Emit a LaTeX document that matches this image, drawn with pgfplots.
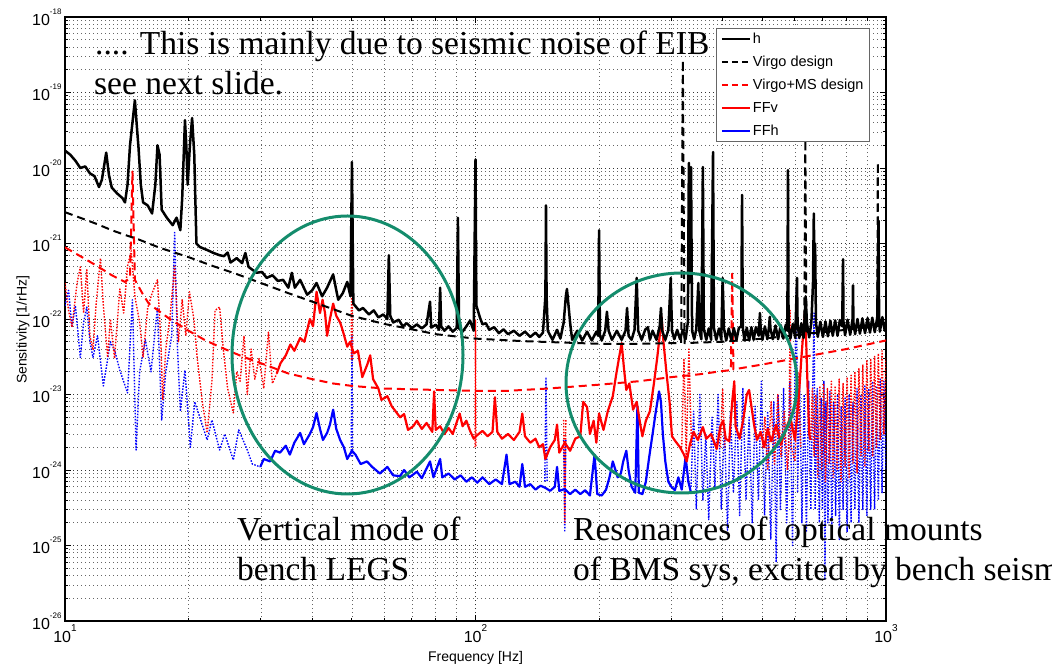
\documentclass[border=0pt]{standalone}
\usepackage{fontspec}
\setmainfont{Liberation Sans}
\newfontfamily\annotfont{Liberation Serif}
\usepackage{pgfplots}
\pgfplotsset{compat=1.18}
\definecolor{ellgreen}{RGB}{20,140,108}
\newcommand{\ytl}[1]{10\raisebox{11pt}{\fontsize{8}{8}\selectfont #1}}
\newcommand{\xtl}[1]{10\raisebox{11pt}{\fontsize{10}{10}\selectfont #1}}
\pgfplotsset{
  limg/.style={legend image code/.code={\draw[#1] (0pt,0pt) -- (28pt,0pt);}},
}
\begin{document}
\begin{tikzpicture}
\begin{axis}[
  at={(0pt,0pt)}, anchor=south west,
  scale only axis, width=821pt, height=604pt,
  xmode=log, ymode=log,
  xmin=10, xmax=1000, ymin=1e-26, ymax=1e-18,
  xtick={10,100,1000},
  xticklabels={\xtl{1},\xtl{2},\xtl{3}},
  ytick={1e-26,1e-25,1e-24,1e-23,1e-22,1e-21,1e-20,1e-19,1e-18},
  yticklabels={\ytl{-26},\ytl{-25},\ytl{-24},\ytl{-23},\ytl{-22},\ytl{-21},\ytl{-20},\ytl{-19},\ytl{-18}},
  tick label style={font=\fontsize{16}{16}\selectfont},
  major tick length=6pt, minor tick length=3.5pt,
  tick align=inside,
  axis line style={line width=1.3pt},
  every tick/.style={black, line width=1pt},
  grid=both,
  major grid style={dash pattern=on 1pt off 3pt, black!80, line width=0.8pt},
  minor grid style={dash pattern=on 1pt off 3pt, black!60, line width=0.7pt},
  xlabel={Frequency [Hz]}, ylabel={Sensitivity [1/rHz]},
  label style={font=\fontsize{14}{14}\selectfont},
  xlabel style={at={(axis description cs:0.5,-0.0613)}, anchor=center},
  ylabel style={at={(axis description cs:-0.0512,0.482)}, anchor=center},
  unbounded coords=jump,
  legend style={font=\fontsize{14.5}{17}\selectfont, draw=black!60, line width=1pt, fill=white,
    at={(0.9805,0.982)}, anchor=north east, inner xsep=4pt, inner ysep=4pt, row sep=9pt,
    nodes={inner xsep=2pt, inner ysep=1pt}},
  legend cell align=left,
]
\addlegendimage{limg={black, line width=2pt, solid}}\addlegendentry{h}
\addlegendimage{limg={black, line width=2pt, dash pattern=on 6pt off 4pt}}\addlegendentry{Virgo design}
\addlegendimage{limg={red, line width=2pt, dash pattern=on 6pt off 4pt}}\addlegendentry{Virgo+MS design}
\addlegendimage{limg={red, line width=2pt, solid}}\addlegendentry{FFv}
\addlegendimage{limg={blue, line width=2pt, solid}}\addlegendentry{FFh}

% FFh dotted parts
\addplot[forget plot, blue, line width=1.4pt, dash pattern=on 1.5pt off 1.5pt, line join=round] coordinates {
(10.0,1.5e-22)(10.2,2.4e-22)(10.4,7.8e-23)(10.6,1.5e-22)(10.9,3.1e-23)(11.1,9e-23)(11.3,1.44e-22)(11.5,5e-23)(11.7,3.1e-23)(12.0,6e-23)(12.4,1.3e-23)(12.9,5e-23)(13.2,3.9e-23)(13.6,2.1e-23)(14.2,1.05e-23)(14.6,1.8e-22)(14.9,1.84e-24)(15.2,2e-23)(15.7,5.3e-23)(16.2,2e-23)(16.8,1.44e-22)(17.2,4.6e-24)(17.6,2e-23)(18.2,6e-23)(18.5,1.4e-21)(18.8,4e-23)(19.1,6e-24)(19.6,2.1e-23)(20.2,2e-24)(20.7,8e-24)(21.3,5e-24)(22.2,2.5e-24)(22.8,4.6e-24)(23.8,1.84e-24)(24.5,3e-24)(25.7,1.36e-24)(26.5,3.4e-24)(27.8,1.84e-24)(28.6,1.2e-24)(29.9,1.1e-24)
(30,nan)
(49.8,1.5e-24)(50,6e-23)(50.2,1.5e-24)
(51,nan)
(147.5,7e-25)(148.5,1.7e-23)(149.5,7e-25)
(150,nan)
(164,2.5e-24)(165,1.5e-25)(166,2.5e-24)
(167,nan)
(335,6e-25)(340,6e-24)(345,3e-25)(352,1e-23)(358,4e-25)(364,3e-24)(370,2.2e-25)(377,5e-24)(383,6e-25)(390,1e-23)(397,3e-25)(404,4e-24)(411,1.6e-25)(418,6e-24)(425,5e-25)(433,8e-24)(440,2.5e-25)(448,1.2e-23)(456,4e-25)(464,5e-24)(472,2e-25)(480,7e-24)(489,4e-25)(497,1.5e-23)(506,2.5e-25)(515,6e-24)(524,1.2e-25)(533,8e-24)(540,6e-26)(546,1e-23)(553,3e-25)(563,1.2e-23)(573,2e-25)(583,1.5e-23)(592,1e-25)(600,2e-23)(605,2.5e-22)(609,5e-25)(616,1.5e-23)(624,2e-25)(632,1e-23)(640,1.5e-25)(648,1.5e-23)(656,3e-25)(664,2e-23)(668,1.2e-22)(672,3e-25)(680,1.2e-23)(688,2e-25)(695,9e-24)(700,3e-25)(706,1.5e-23)(710,3.5e-26)(714,8e-24)(722,2e-25)(730,1.1e-23)(738,1.5e-25)(746,8e-24)(754,2.5e-25)(762,1e-23)(770,1.2e-25)(778,7e-24)(786,3e-25)(795,9e-24)(804,1.5e-25)(813,1e-23)(822,2e-25)(831,8e-24)(840,3e-25)(850,1.2e-23)(859,2e-25)(869,1e-23)(878,3e-25)(888,1.3e-23)(898,2.5e-25)(908,1.2e-23)(918,3e-25)(928,1.5e-23)(938,3e-25)(948,1.3e-23)(958,4e-25)(968,1.6e-23)(978,5e-25)(988,1.5e-23)(1000,1e-24)
};

% FFv dotted parts
\addplot[forget plot, red, line width=1.4pt, dash pattern=on 1.5pt off 1.5pt, line join=round] coordinates {
(10.0,3e-22)(10.2,1.3e-22)(10.4,7.8e-23)(10.7,3e-22)(10.9,4.9e-22)(11.1,1.2e-22)(11.3,4.5e-22)(11.5,6e-23)(11.7,3.9e-23)(11.9,1.5e-22)(12.2,6.4e-22)(12.4,1.5e-22)(12.7,3.1e-23)(12.9,1e-22)(13.2,3e-23)(13.6,2.5e-22)(13.9,1.2e-22)(14.2,5e-22)(14.5,8e-22)(14.8,2e-22)(15.2,9e-23)(15.5,3.1e-23)(15.9,1.4e-22)(16.3,2.2e-22)(16.8,3.3e-22)(17.1,6e-23)(17.3,8.5e-24)(17.6,4e-23)(18.0,1e-22)(18.5,5e-22)(18.9,5e-23)(19.3,1.8e-22)(19.7,6e-23)(20.1,2.3e-22)(20.6,1e-22)(21.0,3e-23)(21.6,8e-24)(22.2,3.1e-24)(22.8,1.5e-23)(23.2,1.3e-22)(23.8,1.44e-22)(24.3,4e-23)(24.9,1.2e-23)(25.7,5.7e-24)(26.2,2e-23)(26.7,1.5e-23)(27.3,6e-23)(27.8,1e-23)(28.4,4e-23)(29.0,1.6e-23)(29.7,3e-23)(30.5,1.2e-23)(31.3,6.7e-23)(32.0,1.4e-23)(32.8,1.9e-23)
(33,nan)
(49.8,2.9e-23)(50,3.8e-21)(50.2,2.9e-23)
(51,nan)
(99.7,2e-24)(100,9.7e-23)(100.3,2e-24)
(101,nan)
(164,4.6e-24)(165,2e-25)(166,4.6e-24)
(167,nan)
(318,2e-24)(322,3e-23)(326,1.5e-24)(331,4e-23)(336,2e-24)
(337,nan)
(395,2e-24)(400,1.2e-23)(405,2e-24)
(406,nan)
(500,2e-24)(507,5e-24)(515,1e-24)(525,8e-24)(535,1.2e-24)(545,1e-23)(555,1.5e-24)(565,6e-24)(575,1e-24)(580,2e-24)(584,1.3e-22)(588,2e-24)(600,1.3e-24)(610,2e-23)(620,2e-24)
(621,nan)
(655,2.5e-24)(662,1.2e-23)(668,1.5e-24)(675,1e-23)(682,8e-25)(690,1.3e-23)(697,1e-24)(705,1.4e-23)(712,7e-25)(720,1.2e-23)(728,1.2e-24)(736,1.5e-23)(744,8e-25)(752,1.3e-23)(760,1e-24)(769,1.6e-23)(777,7e-25)(786,1.4e-23)(795,1.1e-24)(804,1.7e-23)(813,8e-25)(822,1.8e-23)(831,1.2e-24)(840,2e-23)(850,9e-25)(859,2.2e-23)(869,1.5e-24)(878,2.5e-23)(888,1.1e-24)(898,2.8e-23)(908,1.8e-24)(918,3e-23)(928,1.5e-24)(938,3.2e-23)(948,2e-24)(958,3.5e-23)(968,2.5e-24)(978,3.8e-23)(988,3e-24)(1000,3e-23)
};

% FFh solid
\addplot[forget plot, blue, line width=2.2pt, line join=round] coordinates {
(29.9,1.1e-24)(30.5,1.4e-24)(31.6,1.3e-24)(32.5,1.8e-24)(33.4,1.7e-24)(34.5,2.1e-24)(35.3,1.6e-24)(36.2,2.3e-24)(37.4,3.1e-24)(38.2,2.2e-24)(39.5,3e-24)(40.2,3.7e-24)(41,5.7e-24)(41.8,3.5e-24)(42.5,2.5e-24)(43.5,3.1e-24)(44.2,4e-24)(45,6.3e-24)(45.8,3.5e-24)(46.8,2.5e-24)(47.8,2e-24)(48.7,1.4e-24)(50,1.8e-24)(51,1.6e-24)(52.5,1.2e-24)(54.4,1.3e-24)(56,1.1e-24)(58.5,9e-25)(61,1.1e-24)(63,8.5e-25)(65.5,8.3e-25)(67,1e-24)(69,8e-25)(72,9.5e-25)(74,7.8e-25)(77.5,1.3e-24)(79,8e-25)(82,1.4e-24)(83,8e-25)(86,9e-25)(89,7.5e-25)(92,8.5e-25)(95,7e-25)(98,8e-25)(101,6.8e-25)(104,8e-25)(108,6.5e-25)(112,7.5e-25)(116,6.5e-25)(119,1.6e-24)(121,6.5e-25)(125,7e-25)(128,6e-25)(130,1.2e-24)(132,6e-25)(136,6.5e-25)(140,5.5e-25)(144,6.2e-25)(148,5.8e-25)(152,5.3e-25)(156,6e-25)(158,1.1e-24)(160,5.3e-25)(165,5.6e-25)(170,4.8e-25)(175,5.5e-25)(180,4.8e-25)(185,5.4e-25)(190,4.6e-25)(195,1.6e-24)(198,4.8e-25)(203,4.6e-25)(208,5.5e-25)(212,8e-25)(216,1.3e-24)(222,8e-25)(226,9e-25)(229,1.3e-24)(233,1.8e-24)(236,1e-24)(240,6e-25)(245,5e-25)(248,7e-24)(250,5e-25)(255,4.8e-25)(260,7e-25)(265,1.5e-24)(270,3e-24)(275,6e-24)(280,1.1e-23)(283,8e-24)(286,3e-24)(290,1.3e-24)(295,7e-25)(300,6e-25)(306,5.4e-25)(312,8e-25)(318,5.5e-25)(325,1.5e-24)(330,7e-25)(335,5e-25)
};

% FFv solid
\addplot[forget plot, red, line width=2.2pt, line join=round] coordinates {
(32.8,1.9e-23)(33.5,2.6e-23)(34.5,3.3e-23)(35.4,4.6e-23)(36.2,3.8e-23)(37.4,5.6e-23)(38.3,5e-23)(39.5,1e-22)(40.2,8e-23)(41,2.3e-22)(41.8,1.2e-22)(42.4,1.8e-22)(43,1.2e-22)(43.5,6e-23)(44.2,1e-22)(45,1.6e-22)(45.8,1.1e-22)(46.8,9e-23)(47.5,7e-23)(48.7,4.3e-23)(49.5,5e-23)(50.5,3.5e-23)(51.7,3.8e-23)(53,1.7e-23)(54.5,2.5e-23)(55.4,3.3e-23)(56.3,1.6e-23)(58,1.2e-23)(59,8.5e-24)(61,9.5e-24)(62.5,7e-24)(65.5,5e-24)(67,5.5e-24)(68.5,3.4e-24)(70.5,3.8e-24)(72,4.5e-24)(74,3.5e-24)(76,4.2e-24)(78.5,3.2e-24)(79.3,1.1e-23)(80,3.4e-24)(82,3.8e-24)(84,3e-24)(86,3.6e-24)(88,3e-24)(91.5,5.6e-24)(93,3.8e-24)(95,4.5e-24)(97,3.3e-24)(99,2.6e-24)(101,2.9e-24)(104,3.3e-24)(107,2.8e-24)(110,3.2e-24)(111.5,9.2e-24)(113,3.2e-24)(116,2.6e-24)(120,3e-24)(124,2.5e-24)(128,3.2e-24)(130,5.6e-24)(132,2.8e-24)(136,2.3e-24)(140,2.6e-24)(143,2e-24)(146,2.2e-24)(148,1.4e-24)(152,2e-24)(156,2.5e-24)(158,4e-24)(160,1.7e-24)(165,2.3e-24)(170,1.8e-24)(175,2.6e-24)(180,2.8e-24)(183,8e-24)(187,6.8e-24)(190,3e-24)(194,4.5e-24)(197,2.3e-24)(200,5.6e-24)(205,3.4e-24)(210,6e-24)(216,9.5e-24)(220,1.8e-23)(224,3.2e-23)(227,4.8e-23)(230,2.2e-23)(233,1.15e-23)(237,1.4e-23)(242,6.3e-24)(247,8e-24)(252,4e-24)(255,2.8e-24)(260,4.5e-24)(266,6e-24)(272,1.4e-23)(277,3e-23)(281,6e-23)(284,1.07e-22)(287,5e-23)(292,1.9e-23)(297,8e-24)(301,2.8e-24)(307,2.4e-24)(315,2e-24)(322,1.6e-24)(327,1.3e-24)(333,2.2e-24)(340,3.2e-24)(348,2.5e-24)(358,3.7e-24)(365,2.6e-24)(375,3e-24)(387,1.9e-24)(395,3.8e-24)(401,4.5e-24)(407,2.6e-24)(415,2.4e-24)(422,8e-24)(427,1.5e-23)(430,3.8e-24)(440,2.6e-24)(450,5e-24)(458,1e-23)(464,1.15e-23)(470,7e-24)(477,4e-24)(485,2.5e-24)(495,3.2e-24)(505,2e-24)(515,3.5e-24)(525,2.4e-24)(540,4e-24)(555,2.2e-24)(570,3.5e-24)(585,5e-24)(600,2.5e-24)(612,8e-24)(622,3e-23)(628,6e-23)(635,1.3e-22)(640,4e-23)(645,1e-23)(650,3e-24)(655,2.5e-24)
};

% Virgo+MS design
\addplot[forget plot, red, line width=2pt, dash pattern=on 8pt off 5pt, line join=round] coordinates {
(10,8.9e-22)(11,6.6e-22)(12,5e-22)(13,3.8e-22)(14,3.1e-22)(14.4,3.5e-22)(14.6,9e-21)(14.8,3.3e-22)(15.5,2.1e-22)(16,1.6e-22)(18,1e-22)(20,7e-23)(22,5.2e-23)(24,4.2e-23)(27,3.2e-23)(30,2.6e-23)(35,1.9e-23)(40,1.6e-23)(45,1.4e-23)(50,1.3e-23)(60,1.2e-23)(80,1.15e-23)(100,1.12e-23)(120,1.12e-23)(150,1.2e-23)(200,1.35e-23)(250,1.5e-23)(300,1.7e-23)(350,1.85e-23)(400,2.05e-23)(419,2.1e-23)(422,4e-22)(425,2.15e-23)(500,2.5e-23)(600,3e-23)(700,3.5e-23)(800,4e-23)(900,4.6e-23)(1000,5.2e-23)
};

% Virgo design
\addplot[forget plot, black, line width=2pt, dash pattern=on 8pt off 5pt, line join=round] coordinates {
(10,2.6e-21)(11,2.15e-21)(12,1.8e-21)(13,1.5e-21)(14,1.3e-21)(15,1.15e-21)(17,8.8e-22)(20,6.6e-22)(23,5e-22)(26,4e-22)(30,3e-22)(35,2.2e-22)(40,1.7e-22)(45,1.35e-22)(50,1.1e-22)(60,8.6e-23)(70,7.3e-23)(80,6.3e-23)(100,5.5e-23)(130,5.1e-23)(160,4.9e-23)(200,4.7e-23)(250,4.7e-23)(300,4.8e-23)(317,4.8e-23)(320,2.7e-19)(323,4.8e-23)(400,5e-23)(500,5.5e-23)(600,6.1e-23)(632,6.3e-23)(636,2.4e-20)(640,6.4e-23)(700,6.7e-23)(800,7.2e-23)(900,7.8e-23)(952,8e-23)(955,1.2e-20)(958,8.1e-23)(1000,8.3e-23)
};

% h
\addplot[forget plot, black, line width=2.5pt, line join=round] coordinates {
(10,1.7e-20)(10.3,1.5e-20)(10.6,1.25e-20)(10.9,1.0e-20)(11.2,1.05e-20)(11.5,8.5e-21)(11.8,7.8e-21)(12.1,5.6e-21)(12.3,7e-21)(12.6,1.6e-20)(12.8,8e-21)(13.0,5.5e-21)(13.4,4.6e-21)(13.8,4e-21)(14.0,3.5e-21)(14.2,6e-21)(14.4,2e-20)(14.6,4e-20)(14.8,7.9e-20)(15.0,3e-20)(15.1,1.9e-20)(15.3,6e-21)(15.5,3.5e-21)(15.9,3.2e-21)(16.3,2.5e-21)(16.6,6e-21)(16.8,2e-20)(17.0,1.5e-20)(17.2,2.8e-21)(17.7,2.2e-21)(18.3,1.75e-21)(18.7,2.2e-21)(19.1,1.5e-21)(19.3,4e-21)(19.6,4.3e-20)(19.75,2e-20)(19.9,6e-21)(20.15,2e-20)(20.4,4.6e-20)(20.65,1.5e-20)(20.9,1e-21)(21.3,9e-22)(22.2,8.2e-22)(23.0,7.5e-22)(23.8,7e-22)(24.4,6.8e-22)(24.9,7.6e-22)(25.3,5.6e-22)(26.2,6.4e-22)(27.0,5.5e-22)(27.5,7.5e-22)(28.0,4.9e-22)(28.6,4.5e-22)(29.3,4.1e-22)(30.2,4.2e-22)(31.0,3.5e-22)(32.0,3.8e-22)(33.0,3.2e-22)(34.0,3.3e-22)(35.0,2.6e-22)(35.7,4.1e-22)(36.3,2.6e-22)(37.4,3.3e-22)(38.9,2.1e-22)(40.0,2.4e-22)(41.0,3e-22)(42.3,2e-22)(43.5,2.6e-22)(45.0,3.9e-22)(46.3,1.8e-22)(47.5,2.2e-22)(48.7,3.1e-22)(49.6,2e-22)(50.0,1.2e-20)(50.4,1.6e-22)(52.0,1.3e-22)(53.2,1.4e-22)(55.0,1.15e-22)(56.5,1.3e-22)(58.0,1.05e-22)(59.6,1.15e-22)(61.0,1e-22)(61.5,7e-22)(62.0,1.1e-22)(63.0,9e-23)(65.0,9.8e-23)(66.5,8e-23)(68.0,8.8e-23)(70.0,7.6e-23)(72.0,8.5e-23)(74.0,7.5e-23)(76.0,8.5e-23)(77.5,1.7e-22)(78.0,7.7e-23)(80.0,8.4e-23)(81.5,7.2e-23)(82.0,2.6e-22)(82.5,8e-23)(84.0,7e-23)(86.0,8e-23)(88.0,6.8e-23)(90.0,7.6e-23)(90.6,2.2e-21)(91.2,7.5e-23)(93.0,6.8e-23)(95.0,8e-23)(97.0,9.5e-23)(99.0,7e-23)(100.0,1.3e-20)(100.5,1.5e-22)(102.5,1.05e-22)(104,8.5e-23)(106,8.8e-23)(108,7.2e-23)(111,7.8e-23)(114,6.5e-23)(117,7.3e-23)(120,6.3e-23)(124,7e-23)(128,6e-23)(132,6.8e-23)(136,5.8e-23)(140,6.6e-23)(143,5.8e-23)(146,6.6e-23)(148,2e-22)(148.5,3.2e-21)(149,2e-22)(150,7e-23)(154,5.3e-23)(158,7.2e-23)(161,5.5e-23)(164,9e-23)(166,2e-22)(167,2.5e-22)(168,1.8e-22)(170,9e-23)(172,5.3e-23)(177,7e-23)(182,5.2e-23)(187,6.8e-23)(192,5.2e-23)(197,6.8e-23)(199,6e-23)(200,1.5e-21)(201,6e-23)(203,5.2e-23)(207,7e-23)(209,1.25e-22)(211,7e-23)(215,5.3e-23)(221,7e-23)(227,5.3e-23)(232,7e-23)(234,1.4e-22)(236,6e-23)(240,5.3e-23)(244,7.2e-23)(247,3.5e-22)(249,7e-23)(254,5.3e-23)(259,7.2e-23)(263,7.8e-23)(266,5.3e-23)(270,7e-23)(276,5.3e-23)(281,8e-23)(283,1.4e-22)(285,7e-23)(290,5.3e-23)(295,7.2e-23)(299,3.5e-22)(301,7e-23)(305,5.4e-23)(310,7.2e-23)(315,5.4e-23)(320,7.2e-23)(325,5.4e-23)(329,9e-23)(331,1.17e-20)(332,3e-22)(333,8e-22)(335,1.03e-20)(337,7e-23)(341,5.4e-23)(345,7.3e-23)(349,3e-22)(351,7e-23)(355,5.4e-23)(358,1.03e-20)(360,7.4e-23)(365,5.3e-23)(370,7.5e-23)(375,5.3e-23)(379,1.63e-20)(381,7.5e-23)(386,5.3e-23)(392,7.5e-23)(397,5.3e-23)(400,3.5e-22)(403,7.5e-23)(408,5.2e-23)(414,7.5e-23)(420,5.2e-23)(426,7.6e-23)(432,5.2e-23)(438,7.6e-23)(444,8e-23)(446,4.4e-21)(448,7.6e-23)(452,5.2e-23)(458,7.7e-23)(464,5.2e-23)(470,7.8e-23)(476,5.3e-23)(482,7.8e-23)(490,6e-23)(493,1.2e-22)(495,7.8e-23)(500,5.3e-23)(507,8e-23)(514,5.4e-23)(519,8e-23)(521,1.07e-22)(523,7.5e-23)(530,5.4e-23)(538,8.2e-23)(546,5.4e-23)(554,8.3e-23)(562,5.5e-23)(570,8.4e-23)(575,7e-23)(577,9.4e-21)(579,8e-23)(585,5.5e-23)(593,8.6e-23)(601,5.6e-23)(607,3.5e-22)(609,8.6e-23)(615,5.6e-23)(622,8.8e-23)(630,5.6e-23)(637,2e-22)(642,8.8e-23)(650,5.7e-23)(658,9e-23)(664,3e-22)(667,2.5e-21)(669,6e-22)(672,1e-21)(675,9e-23)(682,5.8e-23)(692,9.2e-23)(702,5.8e-23)(712,9.3e-23)(722,5.9e-23)(732,9.5e-23)(742,6e-23)(752,9.6e-23)(762,6e-23)(772,9.7e-23)(782,8e-23)(786,6.2e-22)(788,9e-23)(795,6.1e-23)(806,9.8e-23)(818,6.2e-23)(829,1e-22)(831,2.8e-22)(833,9e-23)(841,6.3e-23)(852,1e-22)(864,6.4e-23)(876,1.02e-22)(889,6.5e-23)(902,1.03e-22)(914,6.6e-23)(926,1.04e-22)(939,6.7e-23)(952,1.05e-22)(959,2e-21)(962,1.05e-22)(966,6.8e-23)(980,1.06e-22)(993,7e-23)(1000,9e-23)
};
\end{axis}
% annotations
\draw[ellgreen, line width=3pt] (282.5pt,266pt) ellipse [x radius=115.5pt, y radius=139pt];
\draw[ellgreen, line width=3pt] (616.5pt,238pt) ellipse [x radius=115.5pt, y radius=110pt];
\begin{scope}[every node/.style={anchor=base west, inner sep=0pt, font=\annotfont\fontsize{33.5}{40}\selectfont}]
\node at (30pt,566pt) {.... This is mainly due to seismic noise of EIB};
\node at (29pt,526pt) {see next slide.};
\node at (172pt,80pt) {Vertical mode of};
\node at (172pt,40pt) {bench LEGS};
\node at (508pt,80pt) {Resonances of~ optical mounts};
\node at (508pt,40pt) {of BMS sys, excited by bench seismic};
\end{scope}
\pgfresetboundingbox
\path (-65pt,-48pt) rectangle (987pt,621pt);
\end{tikzpicture}
\end{document}
